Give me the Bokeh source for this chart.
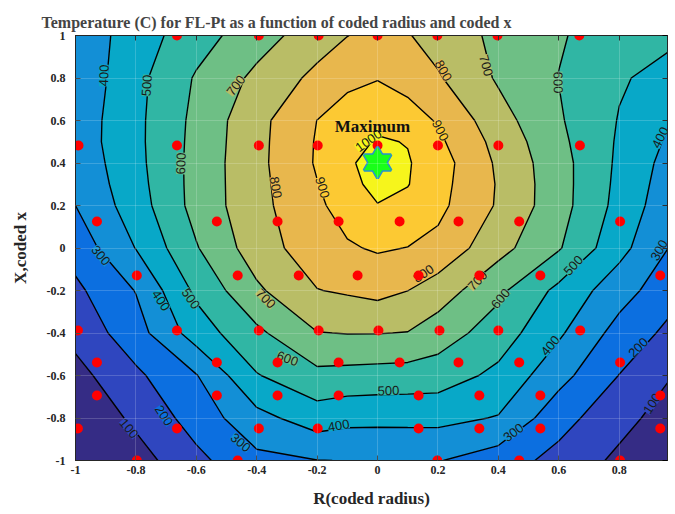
import numpy as np
from bokeh.plotting import figure
from bokeh.models import Range1d, LinearAxis, FixedTicker, ColumnDataSource
from bokeh.core.properties import value
from bokeh.embed import file_html
from bokeh.resources import INLINE

# ---------------- data ----------------
grid_x = [-1.0, -0.8, -0.6, -0.4, -0.2, -0.1, 0.0, 0.1, 0.2, 0.4, 0.6, 0.8, 1.0]
grid_y = [-1.0, -0.8, -0.6, -0.4, -0.2, 0.0, 0.2, 0.3, 0.4, 0.5, 0.6, 0.8, 1.0]

temp_ym10 = [-40, 57, 175, 275, 298, 302, 306, 306, 305, 249, 168, 79, -10]
temp_ym08 = [10, 122, 242, 369, 450, 429, 426, 427, 428, 394, 238, 133, 43]
temp_ym06 = [67, 181, 295, 494, 574, 567, 561, 557, 550, 476, 334, 198, 88]
temp_ym04 = [131, 259, 448, 579, 697, 703, 703, 697, 650, 551, 415, 263, 160]
temp_ym02 = [179, 304, 521, 683, 797, 812, 830, 801, 752, 622, 475, 342, 220]
temp_y000 = [240, 403, 593, 752, 857, 890, 910, 898, 872, 734, 609, 432, 270]
temp_yp02 = [300, 452, 635, 768, 884, 937, 995, 971, 925, 789, 640, 468, 310]
temp_yp03 = [318, 464, 635, 770, 897, 958, 1040, 1004, 934, 792, 640, 476, 325]
temp_yp04 = [331, 472, 634, 773, 910, 981, 1050, 1008, 945, 784, 638, 482, 340]
temp_yp05 = [343, 476, 630, 771, 908, 959, 1010, 996, 919, 768, 624, 488, 364]
temp_yp06 = [341, 476, 626, 769, 901, 938, 975, 936, 893, 740, 611, 495, 389]
temp_yp08 = [323, 471, 610, 723, 826, 880, 895, 870, 810, 688, 598, 510, 460]
temp_yp10 = [330, 450, 557, 657, 752, 798, 830, 806, 761, 677, 609, 550, 510]

contour_levels = [-200, 100, 200, 300, 400, 500, 600, 700, 800, 900, 1000, 1200]

design_x = [-0.664, -0.393, -0.195, 0.0, 0.198, 0.397, 0.668,
            -0.99, -0.664, -0.393, -0.198, 0.0, 0.2, 0.4, 0.67,
            -0.929, -0.532, -0.331, -0.129, 0.073, 0.268, 0.469, 0.803,
            -0.797, -0.463, -0.261, -0.066, 0.136, 0.337, 0.539, 0.936,
            -0.992, -0.664, -0.393, -0.195, 0.003, 0.205, 0.4, 0.671,
            -0.929, -0.532, -0.331, -0.129, 0.073, 0.268, 0.469, 0.803,
            -0.929, -0.532, -0.331, -0.129, 0.136, 0.337, 0.539, 0.936,
            -0.992, -0.664, -0.393, -0.198, 0.136, 0.337, 0.539, 0.936,
            -0.797, -0.463, 0.198, 0.469, 0.803]
design_y = ([1.0] * 7 + [0.482] * 8 + [0.125] * 8 + [-0.129] * 8 + [-0.388] * 8
            + [-0.539] * 8 + [-0.694] * 8 + [-0.849] * 8 + [-1.0] * 5)

max_x = [0.0]
max_y = [0.402]

label_levels = [400, 500, 600, 700, 800, 900, 1000, 800, 900, 700, 600, 400,
                300, 400, 500, 700, 600, 200, 100, 300, 400, 500,
                800, 700, 600, 500, 300, 400, 200, 100, 300]
label_x = [-0.906, -0.764, -0.651, -0.469, -0.337, -0.182, -0.030, 0.218, 0.208, 0.360, 0.598, 0.936,
           -0.916, -0.717, -0.618, -0.370, -0.298, -0.707, -0.823, -0.453, -0.129, 0.036,
           0.152, 0.331, 0.407, 0.648, 0.932, 0.572, 0.863, 0.909, 0.450]
label_y = [0.812, 0.765, 0.398, 0.765, 0.285, 0.285, 0.506, 0.835, 0.553, 0.859, 0.779, 0.520,
           -0.035, -0.247, -0.238, -0.238, -0.520, -0.788, -0.849, -0.915, -0.835, -0.671,
           -0.120, -0.153, -0.238, -0.082, -0.010, -0.459, -0.468, -0.732, -0.868]
label_angle = [88, 86, 88, 53, -80, -73, 35, -61, -63, -75, -89, 63,
               -50, -57, -55, -45, -20, -56, -50, -40, 10, 2,
               34, 46, 50, 47, 61, 50, 45, 57, 37]

x_ticks = [-1, -0.8, -0.6, -0.4, -0.2, 0, 0.2, 0.4, 0.6, 0.8]
x_tick_labels = ["-1", "-0.8", "-0.6", "-0.4", "-0.2", "0", "0.2", "0.4", "0.6", "0.8"]
y_ticks = [-1, -0.8, -0.6, -0.4, -0.2, 0, 0.2, 0.4, 0.6, 0.8, 1]
y_tick_labels = ["-1", "-0.8", "-0.6", "-0.4", "-0.2", "0", "0.2", "0.4", "0.6", "0.8", "1"]

# ---------------- styling ----------------
band_colors = ["#352c85", "#2f46bf", "#0c6fe0", "#138fd6", "#08a8c8", "#30b6a4",
               "#6ebf85", "#b9bd66", "#e8b74d", "#fcc933", "#f6f51c"]
SERIF = "Liberation Serif"
SANS = "Liberation Sans"

temperature = np.array([temp_ym10, temp_ym08, temp_ym06, temp_ym04, temp_ym02, temp_y000,
                        temp_yp02, temp_yp03, temp_yp04, temp_yp05, temp_yp06, temp_yp08,
                        temp_yp10], dtype=float)

p = figure(width=675, height=514, x_range=Range1d(-1, 0.96), y_range=Range1d(-1, 1),
           output_backend="svg", toolbar_location=None,
           min_border_left=75, min_border_right=8, min_border_top=35, min_border_bottom=54)

p.contour(grid_x, grid_y, temperature, contour_levels,
          fill_color=band_colors, line_color="black", line_width=1.4)

# contour labels
lab_bg = [band_colors[min(l // 100, len(band_colors) - 1)] for l in label_levels]
lab_src = ColumnDataSource(dict(x=label_x, y=label_y, text=[str(l) for l in label_levels],
                                angle=label_angle, bg=lab_bg))
p.text(x="x", y="y", text="text", angle="angle", angle_units="deg", source=lab_src,
       text_font=value(SANS), text_font_size="13px", text_color="#1a1a1a",
       text_align="center", text_baseline="middle",
       background_fill_color="bg", padding=0)

# design points
p.scatter(design_x, design_y, size=10, fill_color="#ff0000", line_color=None, marker="circle")

# maximum star (hexagram made from two triangles)
for mk in ("triangle", "inverted_triangle"):
    p.scatter(max_x, max_y, marker=mk, size=27, fill_color="#19ff19",
              line_color="#2a8fd0", line_width=3)
for mk in ("triangle", "inverted_triangle"):
    p.scatter(max_x, max_y, marker=mk, size=27, fill_color="#19ff19", line_color=None)

p.text(x=[max_x[0] - 0.017], y=[0.572], text=["Maximum"], text_font=value(SERIF),
       text_font_style="bold", text_font_size="17px", text_color="#111111",
       text_align="center", text_baseline="middle")

# title
p.title.text = "Temperature (C) for FL-Pt as a function of coded radius and coded x"
p.title.text_font = SERIF
p.title.text_font_style = "bold"
p.title.text_font_size = "16px"
p.title.align = "left"
p.title.offset = -34

# axes
for ax in (p.xaxis[0], p.yaxis[0]):
    ax.major_tick_in = 5
    ax.major_tick_out = 0
    ax.minor_tick_line_color = None
    ax.axis_line_color = "#262626"
    ax.major_tick_line_color = "#262626"
    ax.major_label_text_font = SERIF
    ax.major_label_text_font_style = "bold"
    ax.major_label_text_font_size = "12px"
    ax.major_label_text_color = "#262626"
    ax.axis_label_text_font = SERIF
    ax.axis_label_text_font_style = "bold"
    ax.axis_label_text_font_size = "17px"
    ax.axis_label_text_color = "#262626"

p.xaxis.ticker = FixedTicker(ticks=x_ticks)
p.xaxis.major_label_overrides = dict(zip(x_ticks, x_tick_labels))
p.xaxis.axis_label = "R(coded radius)"
p.xaxis.major_label_standoff = 5
p.xaxis.axis_label_standoff = 12

p.yaxis.ticker = FixedTicker(ticks=y_ticks)
p.yaxis.major_label_overrides = dict(zip(y_ticks, y_tick_labels))
p.yaxis.axis_label = "X,coded x"
p.yaxis.major_label_standoff = 10
p.yaxis.axis_label_standoff = 14

top_axis = LinearAxis(ticker=FixedTicker(ticks=x_ticks), major_label_text_font_size="1px",
                      major_label_text_color=None, major_label_text_alpha=0,
                      major_label_standoff=0, major_tick_in=5, major_tick_out=0,
                      minor_tick_line_color=None, axis_line_color="#262626")
right_axis = LinearAxis(ticker=FixedTicker(ticks=y_ticks), major_label_text_font_size="1px",
                        major_label_text_color=None, major_label_text_alpha=0,
                        major_label_standoff=0, major_tick_in=5, major_tick_out=0,
                        minor_tick_line_color=None, axis_line_color="#262626")
p.add_layout(top_axis, "above")
p.add_layout(right_axis, "right")

p.xgrid.ticker = FixedTicker(ticks=x_ticks)
p.ygrid.ticker = FixedTicker(ticks=y_ticks)
p.grid.grid_line_color = "white"
p.grid.grid_line_alpha = 0.18
p.grid.level = "guide"

p.outline_line_color = "#262626"
p.border_fill_color = "white"

open("out.html", "w").write(file_html(p, INLINE))
